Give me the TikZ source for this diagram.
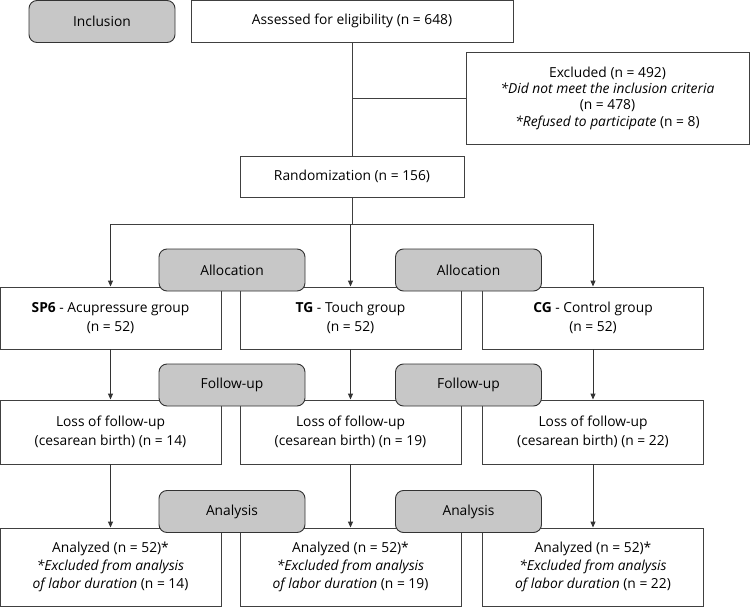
\documentclass[tikz,border=0pt]{standalone}
\usepackage{fontspec}
\setmainfont{Open Sans}
\usetikzlibrary{arrows.meta}
\begin{document}
\begin{tikzpicture}[x=1pt,y=-1pt,
  box/.style={draw=black!75, line width=0.9pt, fill=white, inner sep=0pt, align=center, font=\fontsize{13.8}{16.3}\selectfont},
  box2/.style={box, font=\fontsize{13.8}{19}\selectfont},
  box3/.style={box, font=\fontsize{13.8}{18}\selectfont},
  stage/.style={draw=black!80, line width=0.9pt, fill=black!22, rounded corners=8pt, minimum width=146pt, minimum height=42pt, inner sep=0pt, font=\fontsize{13.8}{15}\selectfont},
  arr/.style={-{Triangle[length=6pt,width=5pt]}, draw=black!80, line width=0.9pt},
  ln/.style={draw=black!75, line width=0.9pt}]
\useasboundingbox (0,0) rectangle (750,607);
% top part
\node[box, minimum width=322pt, minimum height=42pt] (assess) at (352,21) {Assessed for eligibility (n = 648)};
\node[box, minimum width=283pt, minimum height=92pt] (excl) at (607.5,98) {Excluded (n = 492)\\\textit{*Did not meet the inclusion criteria}\\(n = 478)\\\textit{*Refused to participate} (n = 8)};
\node[box, minimum width=224pt, minimum height=41pt] (rand) at (352,176.5) {Randomization (n = 156)};
% groups
\node[box2, minimum width=221pt, minimum height=62pt] (sp6) at (110.5,318) {\textbf{SP6} - Acupressure group\\(n = 52)};
\node[box2, minimum width=221pt, minimum height=62pt] (tg) at (350.5,318) {\textbf{TG} - Touch group\\(n = 52)};
\node[box2, minimum width=221pt, minimum height=62pt] (cg) at (593,318) {\textbf{CG} - Control group\\(n = 52)};
% loss
\node[box2, minimum width=221pt, minimum height=64pt] (loss1) at (110.5,432) {Loss of follow-up\\(cesarean birth) (n = 14)};
\node[box2, minimum width=221pt, minimum height=64pt] (loss2) at (350.5,432) {Loss of follow-up\\(cesarean birth) (n = 19)};
\node[box2, minimum width=221pt, minimum height=64pt] (loss3) at (593,432) {Loss of follow-up\\(cesarean birth) (n = 22)};
% analyzed
\node[box3, minimum width=221pt, minimum height=78pt] (an1) at (110.5,567) {Analyzed (n = 52)*\\\textit{*Excluded from analysis}\\\textit{of labor duration} (n = 14)};
\node[box3, minimum width=221pt, minimum height=78pt] (an2) at (350.5,567) {Analyzed (n = 52)*\\\textit{*Excluded from analysis}\\\textit{of labor duration} (n = 19)};
\node[box3, minimum width=221pt, minimum height=78pt] (an3) at (593,567) {Analyzed (n = 52)*\\\textit{*Excluded from analysis}\\\textit{of labor duration} (n = 22)};
% connectors
\coordinate (split) at (351,224);
\draw[ln] (assess.south) -- (rand.north);
\draw[ln] (assess.south |- excl.west) -- (excl.west);
\draw[ln] (rand.south) -- (rand.south |- split);
\draw[ln] (sp6.north |- split) -- (cg.north |- split);
\draw[arr] (sp6.north |- split) -- (sp6.north);
\draw[arr] (tg.north |- split) -- (tg.north);
\draw[arr] (cg.north |- split) -- (cg.north);
\draw[arr] (sp6.south) -- (loss1.north);
\draw[arr] (tg.south) -- (loss2.north);
\draw[arr] (cg.south) -- (loss3.north);
\draw[arr] (loss1.south) -- (an1.north);
\draw[arr] (loss2.south) -- (an2.north);
\draw[arr] (loss3.south) -- (an3.north);
% stage labels
\node[stage] (incl) at (102,21.5) {Inclusion};
\node[stage] (alloc1) at (232,270) {Allocation};
\node[stage] (alloc2) at (468.5,270) {Allocation};
\node[stage] (fu1) at (232,385) {Follow-up};
\node[stage] (fu2) at (468.5,385) {Follow-up};
\node[stage] (ana1) at (232,511.5) {Analysis};
\node[stage] (ana2) at (468.5,511.5) {Analysis};
\end{tikzpicture}
\end{document}
